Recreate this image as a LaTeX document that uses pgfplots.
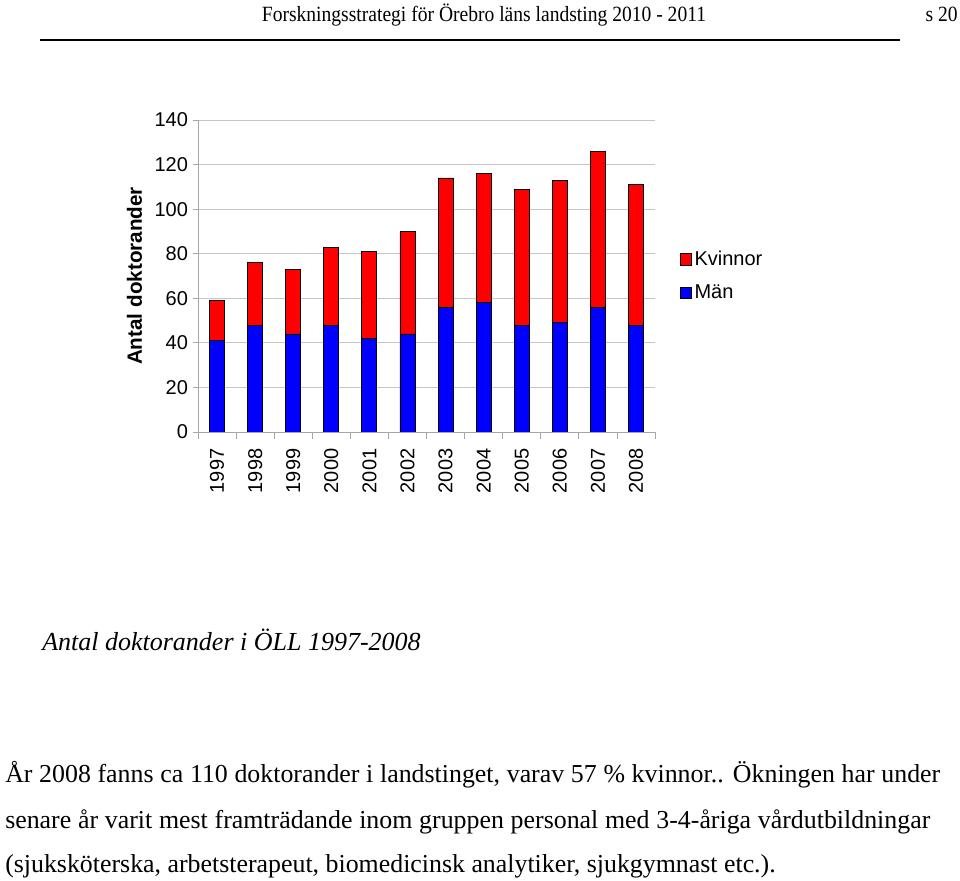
\documentclass[border=0pt]{standalone}
\usepackage{pgfplots}
\pgfplotsset{compat=1.18}
\usepackage{fontspec}
\setmainfont{Liberation Serif}
\setsansfont{Liberation Sans}
\begin{document}
\begin{tikzpicture}[x=0.75pt,y=0.75pt]
\useasboundingbox (0,0) rectangle (960,881);
% header (y = 881 - pixel y)
\node[anchor=base,inner sep=0pt] at (484,859) {\fontsize{16.3}{18}\selectfont\scalebox{0.9}[1]{Forskningsstrategi för Örebro läns landsting 2010 - 2011}};
\node[anchor=base east,inner sep=0pt] at (958,859) {\fontsize{16.3}{18}\selectfont\scalebox{0.9}[1]{s 20}};
\draw[line width=1.5pt] (40,841) -- (900,841);
\begin{axis}[
  at={(198pt*0.75,449pt*0.75)}, anchor=south west,
  scale only axis, width=342.75pt, height=234pt,
  ybar stacked, bar width=11.25pt,
  xmin=-0.5, xmax=11.5, ymin=0, ymax=140,
  ytick={0,20,...,140},
  xtick={0,...,11},
  xticklabels={1997,1998,1999,2000,2001,2002,2003,2004,2005,2006,2007,2008},
  minor xtick={-0.5,0.5,...,11.5},
  major x tick style={draw=none},
  minor x tick style={draw=gray!70, line width=0.6pt},
  minor tick length=5pt,
  axis x line*=bottom, axis y line*=left,
  axis line style={draw=gray!70, line width=0.6pt, -},
  y tick style={draw=gray!70, line width=0.6pt},
  major tick length=4pt,
  tick align=outside,
  ymajorgrids, grid style={draw=gray!45, line width=0.6pt},
  /pgf/number format/assume math mode=true,
  tick label style={font=\sffamily\fontsize{15}{18}\selectfont},
  xticklabel style={rotate=90, anchor=east, xshift=-5pt},
  yticklabel style={xshift=0pt},
  ylabel={Antal doktorander},
  ylabel style={font=\sffamily\bfseries\fontsize{15.5}{18}\selectfont, yshift=2.5pt},
  legend style={draw=none, fill=none, at={(1.045,0.5)}, anchor=west,
    font=\sffamily\fontsize{15}{18}\selectfont, row sep=9pt},
  legend cell align=left,
  reverse legend,
  legend image code/.code={\draw[#1, draw=black, line width=0.5pt] (0cm,-0.15cm) rectangle (0.3cm,0.15cm);},
]
\addplot[fill={rgb,255:red,0;green,0;blue,255}, draw=black, line width=0.6pt] coordinates {
(0,41) (1,48) (2,44) (3,48) (4,42) (5,44) (6,56) (7,58) (8,48) (9,49) (10,56) (11,48)};
\addplot[fill={rgb,255:red,255;green,0;blue,0}, draw=black, line width=0.6pt] coordinates {
(0,18) (1,28) (2,29) (3,35) (4,39) (5,46) (6,58) (7,58) (8,61) (9,64) (10,70) (11,63)};
\legend{Män,Kvinnor}
\end{axis}
% caption
\node[anchor=base west,inner sep=0pt] at (42,230) {\fontsize{19.5}{22}\selectfont\itshape Antal doktorander i ÖLL 1997-2008};
% paragraph
\node[anchor=base west,inner sep=0pt] at (5,98) {\fontsize{19.4}{22}\selectfont\makebox[701.25pt][s]{År 2008 fanns ca 110 doktorander i landstinget, varav 57 \% kvinnor.. Ökningen har under}};
\node[anchor=base west,inner sep=0pt] at (5,52) {\fontsize{19.4}{22}\selectfont\makebox[693.75pt][s]{senare år varit mest framträdande inom gruppen personal med 3-4-åriga vårdutbildningar}};
\node[anchor=base west,inner sep=0pt] at (5,8) {\fontsize{19.4}{22}\selectfont (sjuksköterska, arbetsterapeut, biomedicinsk analytiker, sjukgymnast etc.).};
\end{tikzpicture}
\end{document}
